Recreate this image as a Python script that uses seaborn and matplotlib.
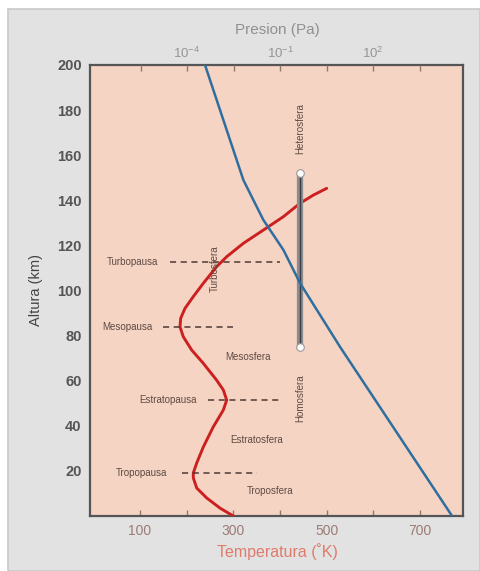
import numpy as np
import pandas as pd
import matplotlib
matplotlib.use("Agg")
import matplotlib.pyplot as plt
from matplotlib.patches import Rectangle
import seaborn as sns

# ---------------- data ----------------
# Temperature profile (K) vs altitude (km)
temp_alt = [0, 3.5, 8, 12.4, 16.9, 19.1, 23.5, 30.6, 39.5, 47, 51.4, 55.9, 60.3, 67.7, 73.6,
            79.5, 83.9, 87.7, 92.1, 97.3, 103.2, 110.6, 115, 120.9, 126.8, 132.7, 138.7, 142.3, 145.3]
temp_k   = [300, 271.5, 243, 221.6, 214.3, 214.3, 221.6, 235.7, 257, 278.6, 285.8, 278.6, 264, 235.7, 210.8,
            192.8, 185.8, 187.3, 196.5, 214.3, 235.7, 264.4, 285.9, 321.4, 364.3, 407, 443, 471.4, 500]

# Pressure profile (Pa) vs altitude (km)
pres_alt = [0, 75, 103.3, 118, 131.3, 140.1, 149, 200]
pres_pa  = [3.53e4, 8.6, 0.44, 0.128, 2.89e-2, 1.38e-2, 6.55e-3, 3.8e-4]

# Layer boundaries: name, altitude, dashed line from/to (K), label position (K)
pause_names = ["Turbopausa", "Mesopausa", "Estratopausa", "Tropopausa"]
pause_alt   = [112.6, 83.8, 51.4, 19.0]
pause_from  = [164, 149, 246, 190]
pause_to    = [400, 299, 400, 350]
pause_lblx  = [85, 72, 160, 104]

layer_names = ["Mesosfera", "Estratosfera", "Troposfera"]
layer_x     = [331, 350, 378]
layer_alt   = [70.5, 33.7, 11.0]

vert_names = ["Turbosfera", "Heterosfera", "Homosfera"]
vert_x     = [261, 443, 443]
vert_alt   = [109.5, 172, 52.3]

bar_x   = 443
bar_alt = [75, 152]

y_ticks = [20, 40, 60, 80, 100, 120, 140, 160, 180, 200]
x_ticks = [100, 200, 300, 400, 500, 600, 700]
x_labels = ["100", "", "300", "", "500", "", "700"]
p_tick_exp = [-5.5, -4, -2.5, -1, 0.5, 2, 3.5]
p_labels = ["", "10$^{-4}$", "", "10$^{-1}$", "", "10$^{2}$", ""]

# ---------------- figure ----------------
sns.set_theme(style="white")
plt.rcParams['font.family'] = ['Liberation Sans', 'DejaVu Sans']
plt.rcParams['mathtext.fontset'] = 'custom'
plt.rcParams['mathtext.rm'] = 'Liberation Sans'

W, H = 480, 571
fig = plt.figure(figsize=(W / 100, H / 100), dpi=100, facecolor="white")
bg = Rectangle((8 / W, 0), 1 - 8 / W, 1 - 9 / H, transform=fig.transFigure,
               facecolor="#e2e2e2", edgecolor="#c9c9c9", lw=1.2, zorder=-10)
fig.patches.append(bg)

L, R, T, B = 90, 463, 65, 516
ax = fig.add_axes([L / W, 1 - B / H, (R - L) / W, (B - T) / H])
ax.set_facecolor("#f5d4c4")

df_t = pd.DataFrame({"T": temp_k, "alt": temp_alt})
sns.lineplot(data=df_t, x="T", y="alt", sort=False, estimator=None, ax=ax,
             color="#cc2020", lw=2.1, zorder=4)

ax.set_xlim(-7, 792)
ax.set_ylim(0, 200)

# pressure axis (log, top)
ax2 = ax.twiny()
ax2.set_xscale("log")
ax2.set_xlim(10 ** -7.13, 10 ** 4.90)
df_p = pd.DataFrame({"P": pres_pa, "alt": pres_alt})
sns.lineplot(data=df_p, x="P", y="alt", sort=False, estimator=None, ax=ax2,
             color="#2f6e9e", lw=1.8, zorder=3)
ax2.set_ylim(0, 200)
ax2.set_xticks([10 ** e for e in p_tick_exp])
ax2.set_xticklabels(p_labels)
ax2.xaxis.set_minor_locator(matplotlib.ticker.NullLocator())
ax2.tick_params(axis="x", direction="in", length=4, width=1, color="#8a7a70",
                labelsize=9.5, labelcolor="#959595", pad=3)
ax2.set_xlabel("")
for s in ax2.spines.values():
    s.set_visible(False)

# vertical bar (homosphere / heterosphere)
ax.plot([bar_x, bar_x], bar_alt, color="#8c8c8c", lw=4.5, solid_capstyle="butt", zorder=5)
ax.plot([bar_x, bar_x], bar_alt, color="#3a3a4a", lw=1.0, zorder=6)
ax.scatter([bar_x, bar_x], bar_alt, s=30, color="white", edgecolor="#9a9a9a", lw=0.8, zorder=7)

# pause dashed lines and labels
txt_col = "#5e4a42"
for name, a, x0, x1, lx in zip(pause_names, pause_alt, pause_from, pause_to, pause_lblx):
    ax.plot([x0, x1], [a, a], color="#4e3a34", lw=1.1, ls=(0, (4, 3)), zorder=5)
    ax.text(lx, a, name, fontsize=7, color=txt_col, ha="center", va="center", zorder=6)
for name, x, a in zip(layer_names, layer_x, layer_alt):
    ax.text(x, a, name, fontsize=7, color=txt_col, ha="center", va="center", zorder=6)
for name, x, a in zip(vert_names, vert_x, vert_alt):
    ax.text(x, a, name, fontsize=7, color=txt_col, ha="center", va="center",
            rotation=90, zorder=6)

# axes styling
ax.set_xticks(x_ticks)
ax.set_xticklabels(x_labels)
ax.set_yticks(y_ticks)
ax.set_yticklabels([str(v) for v in y_ticks])
ax.tick_params(axis="x", direction="in", length=4, width=1, color="#8a7a70",
               labelsize=10, labelcolor="#9b7b75", pad=6)
ax.tick_params(axis="y", direction="in", length=4, width=1, color="#b08070",
               labelsize=10.5, labelcolor="#555555", pad=6)
for lbl in ax.get_yticklabels():
    lbl.set_fontweight("bold")
ax.set_xlabel("")
ax.set_ylabel("")
for s in ax.spines.values():
    s.set_visible(True)
    s.set_color("#555555")
    s.set_linewidth(1.6)

fig.text(277 / W, 1 - 552 / H, "Temperatura (\u02daK)", fontsize=11.5, color="#e07a6a",
         ha="center", va="center")
fig.text(277 / W, 1 - 30 / H, "Presion (Pa)", fontsize=11, color="#909090",
         ha="center", va="center")
fig.text(36 / W, 1 - 290 / H, "Altura (km)", fontsize=10.5, color="#444444",
         ha="center", va="center", rotation=90)

fig.savefig("out.png", dpi=100, facecolor=fig.get_facecolor())
